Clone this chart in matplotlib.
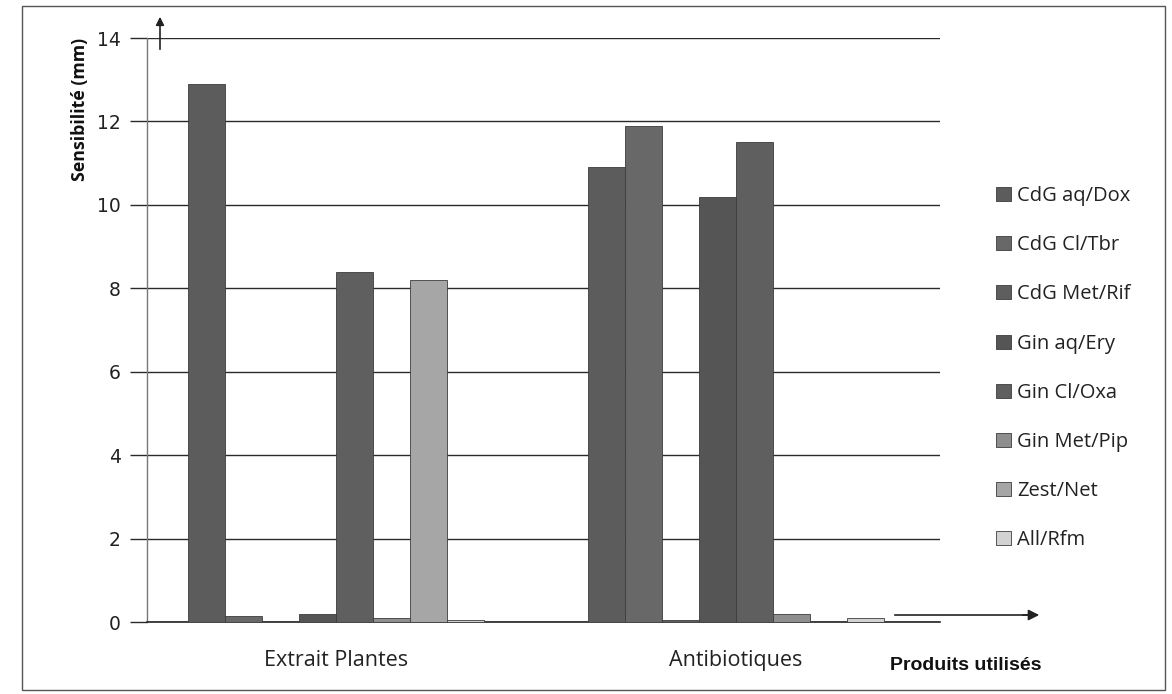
import matplotlib
matplotlib.use("Agg")
import matplotlib.pyplot as plt
import numpy as np
from matplotlib.patches import Rectangle

# Data
categories = ["Extrait Plantes", "Antibiotiques"]
series_names = ["CdG aq/Dox", "CdG Cl/Tbr", "CdG Met/Rif", "Gin aq/Ery",
                "Gin Cl/Oxa", "Gin Met/Pip", "Zest/Net", "All/Rfm"]
extrait_plantes = [12.9, 0.15, 0.0, 0.2, 8.4, 0.1, 8.2, 0.05]
antibiotiques = [10.9, 11.9, 0.05, 10.2, 11.5, 0.2, 0.0, 0.1]
y_ticks = [0, 2, 4, 6, 8, 10, 12, 14]

colors = ["#5c5c5c", "#686868", "#5e5e5e", "#555555",
          "#5f5f5f", "#8e8e8e", "#a6a6a6", "#d2d2d2"]

W, H = 1172, 694
fig = plt.figure(figsize=(W / 100, H / 100), dpi=100)
fig.patch.set_facecolor("white")

def fx(px):
    return px / W

def fy(py):
    return 1 - py / H

ax = fig.add_axes([fx(147), fy(622), fx(940) - fx(147), fy(38) - fy(622)])

x = np.arange(len(categories))
width = 0.0925
values = np.array([extrait_plantes, antibiotiques])
handles = []
for i, name in enumerate(series_names):
    b = ax.bar(x + (i - 3.5) * width, values[:, i], width,
               color=colors[i], edgecolor="#3c3c3c", linewidth=0.6,
               label=name, zorder=3)
    handles.append(b)

ax.set_ylim(0, 14)
ax.set_xlim(-0.4725, 1.51)
ax.set_yticks(y_ticks)
ax.set_yticklabels([str(v) for v in y_ticks], fontsize=13.5,
                   family="DejaVu Sans", color="#222222")
ax.yaxis.grid(True, color="#2a2a2a", linewidth=1.0, zorder=0)
ax.set_axisbelow(True)
ax.tick_params(axis="y", length=12, width=1.0, color="#2a2a2a", pad=7)
ax.set_xticks(x)
ax.set_xticklabels(categories, fontsize=15.5, family="Open Sans", color="#222222")
ax.tick_params(axis="x", length=0, pad=20)

for s in ["top", "right"]:
    ax.spines[s].set_visible(False)
ax.spines["left"].set_color("#777777")
ax.spines["left"].set_linewidth(1.0)
ax.spines["bottom"].set_color("#222222")
ax.spines["bottom"].set_linewidth(1.2)

# Axis titles
fig.text(fx(80), fy(38), "Sensibilité (mm)", rotation=90, ha="center", va="top",
         fontsize=12.8, fontweight="bold", family="Open Sans", color="#111111")
fig.text(fx(966), fy(665), "Produits utilisés", ha="center", va="center",
         fontsize=14, fontweight="bold", family="Liberation Sans", color="#111111")

# Axis arrows
fig.add_artist(plt.Line2D([fx(895), fx(1028)], [fy(615), fy(615)],
                          color="#222222", linewidth=1.2))
ax.annotate("", xy=(fx(1042), fy(615)), xytext=(fx(1020), fy(615)),
            xycoords="figure fraction", textcoords="figure fraction",
            arrowprops=dict(arrowstyle="-|>", color="#222222", lw=1.2,
                            mutation_scale=16))
ax.annotate("", xy=(fx(160), fy(14)), xytext=(fx(160), fy(52)),
            xycoords="figure fraction", textcoords="figure fraction",
            arrowprops=dict(arrowstyle="-|>", color="#222222", lw=1.2,
                            mutation_scale=12))

# Legend
leg = fig.legend(handles=handles, labels=series_names, loc="upper left",
                 bbox_to_anchor=(fx(986), fy(176)), frameon=False,
                 borderpad=0, labelspacing=1.45, handlelength=0.75,
                 handleheight=0.7, handletextpad=0.3,
                 prop={"family": "Open Sans", "size": 14.5})
for t in leg.get_texts():
    t.set_color("#222222")

# Outer frame
fig.add_artist(Rectangle((fx(22), fy(690)), fx(1165) - fx(22), fy(6) - fy(690),
                         transform=fig.transFigure, fill=False,
                         edgecolor="#555555", linewidth=1.0))

fig.savefig("out.png", dpi=100, facecolor="white")
